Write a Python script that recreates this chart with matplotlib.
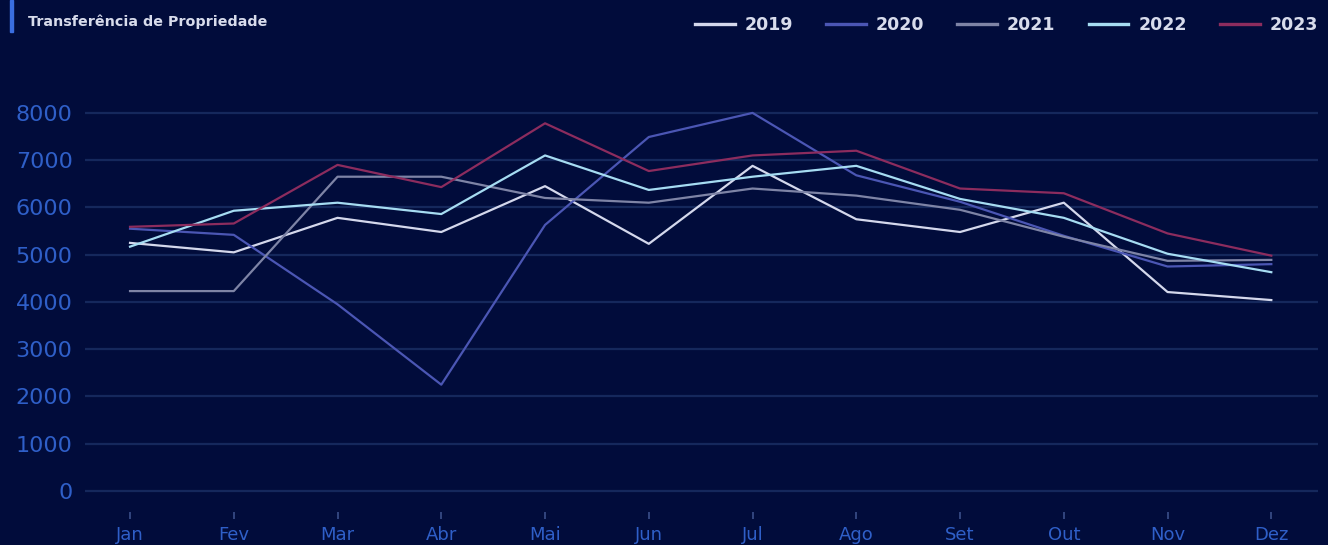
import matplotlib
matplotlib.use("Agg")
import matplotlib.pyplot as plt

months = ["Jan", "Fev", "Mar", "Abr", "Mai", "Jun", "Jul", "Ago", "Set", "Out", "Nov", "Dez"]
years = ["2019", "2020", "2021", "2022", "2023"]

v2019 = [5250, 5050, 5780, 5480, 6450, 5230, 6880, 5750, 5480, 6100, 4210, 4040]
v2020 = [5550, 5420, 3950, 2250, 5630, 7490, 8000, 6680, 6120, 5400, 4750, 4800]
v2021 = [4230, 4230, 6650, 6650, 6200, 6100, 6400, 6250, 5950, 5380, 4870, 4890]
v2022 = [5170, 5930, 6100, 5860, 7100, 6370, 6650, 6880, 6180, 5780, 5020, 4630]
v2023 = [5590, 5660, 6900, 6430, 7780, 6770, 7100, 7200, 6400, 6300, 5450, 4980]

series = [v2019, v2020, v2021, v2022, v2023]
colors = ["#d4d8ec", "#4b56b4", "#7e84a6", "#a6dcf2", "#8c2c5e"]

bg = "#010c3b"
grid_c = "#15285c"
tick_c = "#2f5fc8"

fig = plt.figure(figsize=(13.28, 5.45), dpi=100, facecolor=bg)
ax = fig.add_axes([85 / 1328, 1 - 512 / 545, (1318 - 85) / 1328, (512 - 94) / 545])
ax.set_facecolor(bg)

x = list(range(len(months)))
for vals, col, yr in zip(series, colors, years):
    ax.plot(x, vals, color=col, lw=1.6, label=yr)

ax.set_xlim(-0.434, 11.45)
ax.set_ylim(-444, 8400)
ax.set_yticks(range(0, 8001, 1000))
ax.set_xticks(x)
ax.set_xticklabels(months)
ax.grid(axis="y", color=grid_c, lw=1.6)
ax.set_axisbelow(True)
for s in ax.spines.values():
    s.set_visible(False)
ax.tick_params(axis="y", length=0, labelsize=16, labelcolor=tick_c, pad=9)
ax.tick_params(axis="x", length=5, width=1.2, color="#3a4f8a", labelsize=13,
               labelcolor=tick_c, pad=5)

# title with accent bar
fig.patches.append(plt.Rectangle((10 / 1328, 1 - 32 / 545), 3 / 1328, 32 / 545,
                                 transform=fig.transFigure, color="#3a6ee0"))
fig.text(28 / 1328, 1 - 22 / 545, "Transferência de Propriedade", color="#d8dcec",
         fontsize=10.3, fontweight="bold", va="center", ha="left")

leg = fig.legend(loc="center left", bbox_to_anchor=(679 / 1328, 1 - 25 / 545), ncol=5,
                 frameon=False, prop={"size": 12.5, "weight": "bold"},
                 handlelength=2.3, handletextpad=0.57, columnspacing=1.9)
for t in leg.get_texts():
    t.set_color("#d8dcec")
for h in leg.legend_handles:
    h.set_linewidth(2.4)

fig.savefig("out.png", dpi=100, facecolor=bg)
